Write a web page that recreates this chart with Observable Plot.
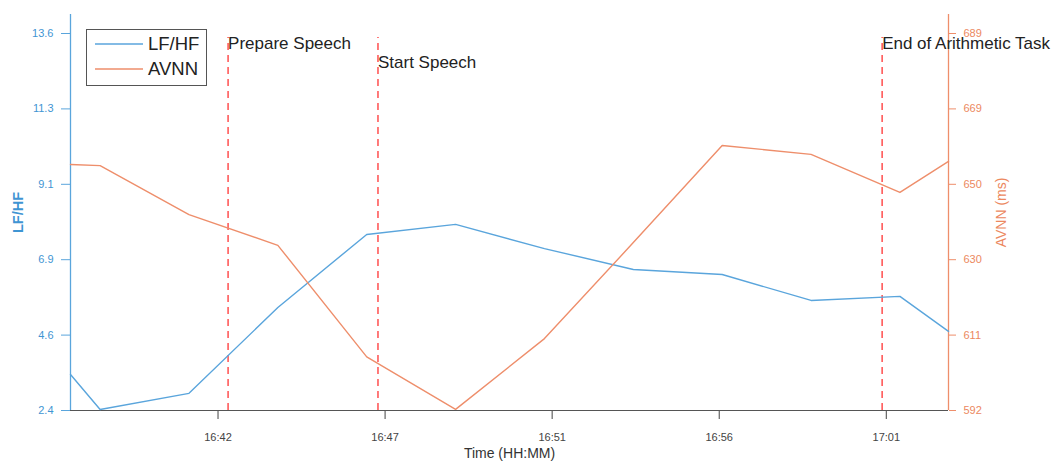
<!DOCTYPE html>
<html>
<head>
<meta charset="utf-8">
<script src="https://cdn.jsdelivr.net/npm/d3@7"></script>
<script src="https://cdn.jsdelivr.net/npm/@observablehq/plot@0.6"></script>
<style>
  html, body { margin: 0; padding: 0; background: #fff; }
  #chart { width: 1063px; height: 461px; }
</style>
</head>
<body>
<div id="chart"></div>
<script>
// ---- data ----
const times = ["16:38:15","16:39:05","16:41:35","16:44:05","16:46:35","16:49:05","16:51:35","16:54:05","16:56:35","16:59:05","17:01:35","17:02:57"];
const lfhf = [3.47, 2.43, 2.91, 5.46, 7.63, 7.93, 7.21, 6.59, 6.44, 5.67, 5.79, 4.75];
const avnn = [655.3, 655.0, 642.4, 634.5, 605.8, 592.3, 610.5, 635.2, 660.2, 657.9, 648.1, 656.1];
const eventTimes = ["16:42:41", "16:46:54", "17:01:05"];
const eventLabels = ["Prepare Speech", "Start Speech", "End of Arithmetic Task"];
const xTickTimes = ["16:42:24", "16:47:06", "16:51:48", "16:56:30", "17:01:12"];
const xTickLabels = ["16:42", "16:47", "16:51", "16:56", "17:01"];
const lfhfTickLabels = ["2.4", "4.6", "6.9", "9.1", "11.3", "13.6"];
const avnnTickLabels = ["592", "611", "630", "650", "669", "689"];
const seriesNames = ["LF/HF", "AVNN"];

// ---- helpers ----
const toMin = s => { const [h, m, sec] = s.split(":").map(Number); return (h - 16) * 60 + m + sec / 60; };
const BLUE = "#5AA5DC", BLUE_TXT = "#3F95D3";
const ORANGE = "#EE8E6B", ORANGE_TXT = "#EC8860";
const leftMin = +lfhfTickLabels[0], leftMax = +lfhfTickLabels[lfhfTickLabels.length - 1];
const nT = lfhfTickLabels.length - 1;
const tickPos = lfhfTickLabels.map((_, i) => leftMin + i * (leftMax - leftMin) / nT);
const avMin = +avnnTickLabels[0], avMax = +avnnTickLabels[avnnTickLabels.length - 1];
const avToLeft = ms => leftMin + (ms - avMin) / (avMax - avMin) * (leftMax - leftMin);
const yTop = leftMin + (leftMax - leftMin) * 396 / 377;
const eventTop = leftMin + (leftMax - leftMin) * 373 / 377;

const rows = times.map((t, i) => ({t: toMin(t), lf: lfhf[i], av: avToLeft(avnn[i])}));
const events = eventTimes.map((t, i) => ({t: toMin(t), label: eventLabels[i]}));
const xTicks = xTickTimes.map(toMin);
const xMap = new Map(xTicks.map((v, i) => [v, xTickLabels[i]]));
const lMap = new Map(tickPos.map((v, i) => [v, lfhfTickLabels[i]]));
const rMap = new Map(tickPos.map((v, i) => [v, avnnTickLabels[i]]));
const xDomain = [rows[0].t, rows[rows.length - 1].t];

const chart = Plot.plot({
  width: 1063, height: 461,
  marginLeft: 70, marginRight: 115, marginTop: 14, marginBottom: 51,
  style: {fontFamily: "'Liberation Sans', Arial, sans-serif", background: "#fff", overflow: "visible"},
  x: {type: "linear", domain: xDomain},
  y: {domain: [leftMin, yTop]},
  marks: [
    Plot.axisX({ticks: xTicks, tickFormat: d => xMap.get(d), tickSize: 9, tickPadding: 14, fontSize: 11, color: "#444", label: null}),
    Plot.axisY({anchor: "left", ticks: tickPos, tickFormat: d => lMap.get(d), tickSize: 9, tickPadding: 8, fontSize: 11, color: BLUE_TXT, stroke: BLUE, label: null}),
    Plot.axisY({anchor: "right", ticks: tickPos, tickFormat: d => rMap.get(d), tickSize: 7, tickPadding: 8, fontSize: 11, color: ORANGE_TXT, stroke: ORANGE, label: null}),
    Plot.ruleY([leftMin], {stroke: "#555", strokeWidth: 1}),
    Plot.ruleX([xDomain[0]], {stroke: BLUE, strokeWidth: 1.3}),
    Plot.ruleX([xDomain[1]], {stroke: ORANGE, strokeWidth: 1.3}),
    Plot.ruleX(events, {x: "t", y1: leftMin, y2: eventTop, stroke: "#FF5A5A", strokeWidth: 1.6, strokeDasharray: "7,5"}),
    Plot.line(rows, {x: "t", y: "lf", stroke: BLUE, strokeWidth: 1.4}),
    Plot.line(rows, {x: "t", y: "av", stroke: ORANGE, strokeWidth: 1.4}),
    Plot.text(events.filter((d, i) => i !== 1), {x: "t", frameAnchor: "top", dy: 22, text: "label", textAnchor: "start", fontSize: 17, fill: "#222"}),
    Plot.text(events.filter((d, i) => i === 1), {x: "t", frameAnchor: "top", dy: 41, text: "label", textAnchor: "start", fontSize: 17, fill: "#222"}),
    Plot.text(["LF/HF"], {frameAnchor: "left", dx: -52, rotate: -90, textAnchor: "middle", fontSize: 14.5, fontWeight: "bold", fill: BLUE_TXT}),
    Plot.text(["AVNN (ms)"], {frameAnchor: "right", dx: 53, rotate: -90, textAnchor: "middle", fontSize: 14, fill: ORANGE_TXT}),
    Plot.text(["Time (HH:MM)"], {frameAnchor: "bottom", dy: 47, fontSize: 14, fill: "#333"})
  ]
});

// legend box (top-left, inside the axes)
const svg = d3.select(chart);
const lg = svg.append("g").attr("text-anchor", "start");
lg.append("rect").attr("x", 86.5).attr("y", 29.5).attr("width", 120).attr("height", 56)
  .attr("fill", "#fff").attr("stroke", "#555").attr("stroke-width", 1);
[BLUE, ORANGE].forEach((c, i) => {
  const y = 44 + i * 25;
  lg.append("line").attr("x1", 95).attr("x2", 143).attr("y1", y).attr("y2", y).attr("stroke", c).attr("stroke-width", 1.5);
  lg.append("text").attr("x", 148).attr("y", y).attr("dy", "0.35em").attr("text-anchor", "start")
    .attr("font-size", 18.5).attr("fill", "#222").text(seriesNames[i]);
});

document.getElementById("chart").appendChild(chart);
</script>
</body>
</html>
